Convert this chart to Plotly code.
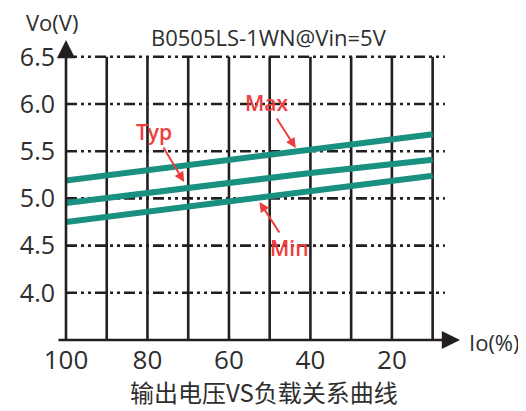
import plotly.graph_objects as go

# ---- data ----
load_pct = [100, 70, 40, 10]
vo_max = [5.19, 5.35, 5.52, 5.68]
vo_typ = [4.95, 5.11, 5.27, 5.41]
vo_min = [4.75, 4.91, 5.08, 5.24]

x_tick_vals = [100, 80, 60, 40, 20]
x_tick_text = ["100", "80", "60", "40", "20"]
x_grid_vals = [90, 80, 70, 60, 50, 40, 30, 20, 10]
y_tick_vals = [4.0, 4.5, 5.0, 5.5, 6.0, 6.5]
y_tick_text = ["4.0", "4.5", "5.0", "5.5", "6.0", "6.5"]

title_text = "B0505LS-1WN@Vin=5V"
caption_text = "输出电压VS负载关系曲线"

TEAL = "#1a9080"
RED = "#ee3d3d"
INK = "#231f20"
TXT = "#2e2e2e"

# page has an 8px body margin, so the figure is drawn 8px smaller and offset
OFF = 8
PX_L, PX_T, PW, PH = 57, 40, 403, 300   # plot area in reference pixels


def px(xr):
    return (xr - PX_L) / PW


def py(yr):
    return (PX_T + PH - yr) / PH


fig = go.Figure()
for name, vals in [("Max", vo_max), ("Typ", vo_typ), ("Min", vo_min)]:
    fig.add_trace(go.Scatter(x=load_pct, y=vals, mode="lines", name=name,
                             line=dict(color=TEAL, width=6), showlegend=False))

shapes = []
for xv in x_grid_vals:
    shapes.append(dict(type="line", xref="x", yref="y", x0=xv, x1=xv, y0=3.5, y1=max(y_tick_vals),
                       line=dict(color=INK, width=2.6), layer="below"))
for yv in y_tick_vals:
    shapes.append(dict(type="line", xref="x", yref="y", x0=100, x1=7.0, y0=yv, y1=yv,
                       line=dict(color=INK, width=2.6, dash="11px,4px,3px,4px,3px,4px"), layer="below"))

label_font = dict(family="Open Sans", size=21, color=RED, weight=600)
annotations = [
    # axes with arrowheads
    dict(xref="paper", yref="paper", x=0, y=1, ax=0, ay=PH + 2, axref="pixel", ayref="pixel",
         text="", showarrow=True, arrowhead=2, arrowsize=1.4, arrowwidth=2.6, arrowcolor=INK),
    dict(xref="paper", yref="paper", x=1, y=0, ax=-PW, ay=0, axref="pixel", ayref="pixel",
         text="", showarrow=True, arrowhead=2, arrowsize=1.4, arrowwidth=2.6, arrowcolor=INK),
    # series labels
    dict(x=71.0, y=5.174, xref="x", yref="y", ax=-30, ay=-50, text="Typ", showarrow=True,
         arrowhead=2, arrowsize=1, arrowwidth=2, arrowcolor=RED, font=label_font),
    dict(x=43.6, y=5.534, xref="x", yref="y", ax=-29, ay=-45, text="Max", showarrow=True,
         arrowhead=2, arrowsize=1, arrowwidth=2, arrowcolor=RED, font=label_font),
    dict(x=52.5, y=4.962, xref="x", yref="y", ax=30, ay=46, text="Min", showarrow=True,
         arrowhead=2, arrowsize=1, arrowwidth=2, arrowcolor=RED, font=label_font),
    # texts
    dict(xref="paper", yref="paper", x=px(43), y=py(22), text="Vo(V)",
         showarrow=False, xanchor="center", yanchor="middle",
         font=dict(family="Open Sans", size=22, color=TXT)),
    dict(xref="paper", yref="paper", x=px(495), y=py(342), text="Io(%)",
         showarrow=False, xanchor="center", yanchor="middle",
         font=dict(family="Open Sans", size=22, color=TXT)),
    dict(xref="paper", yref="paper", x=px(265), y=py(37), text=title_text,
         showarrow=False, xanchor="center", yanchor="middle",
         font=dict(family="Open Sans", size=22, color=TXT)),
    dict(xref="paper", yref="paper", x=px(260), y=py(391), text=caption_text,
         showarrow=False, xanchor="center", yanchor="middle",
         font=dict(family="Noto Sans CJK SC", size=24, color=TXT)),
]

fig.update_layout(
    width=526 - OFF, height=411 - OFF,
    margin=dict(l=PX_L - OFF, r=526 - (PX_L + PW), t=PX_T - OFF, b=411 - (PX_T + PH)),
    paper_bgcolor="white", plot_bgcolor="white",
    shapes=shapes, annotations=annotations,
    xaxis=dict(range=[100, 100 - PW / 41.667 * 10], showgrid=False, zeroline=False,
               showline=False, tickmode="array", tickvals=x_tick_vals, ticktext=x_tick_text,
               ticks="", ticklabelstandoff=2,
               tickfont=dict(family="Open Sans", size=26, color=TXT)),
    yaxis=dict(range=[3.5, 3.5 + PH / 94.4], showgrid=False, zeroline=False,
               showline=False, tickmode="array", tickvals=y_tick_vals, ticktext=y_tick_text,
               ticks="", ticklabelstandoff=10,
               tickfont=dict(family="Open Sans", size=25, color=TXT)),
)

fig.write_html("out.html")
